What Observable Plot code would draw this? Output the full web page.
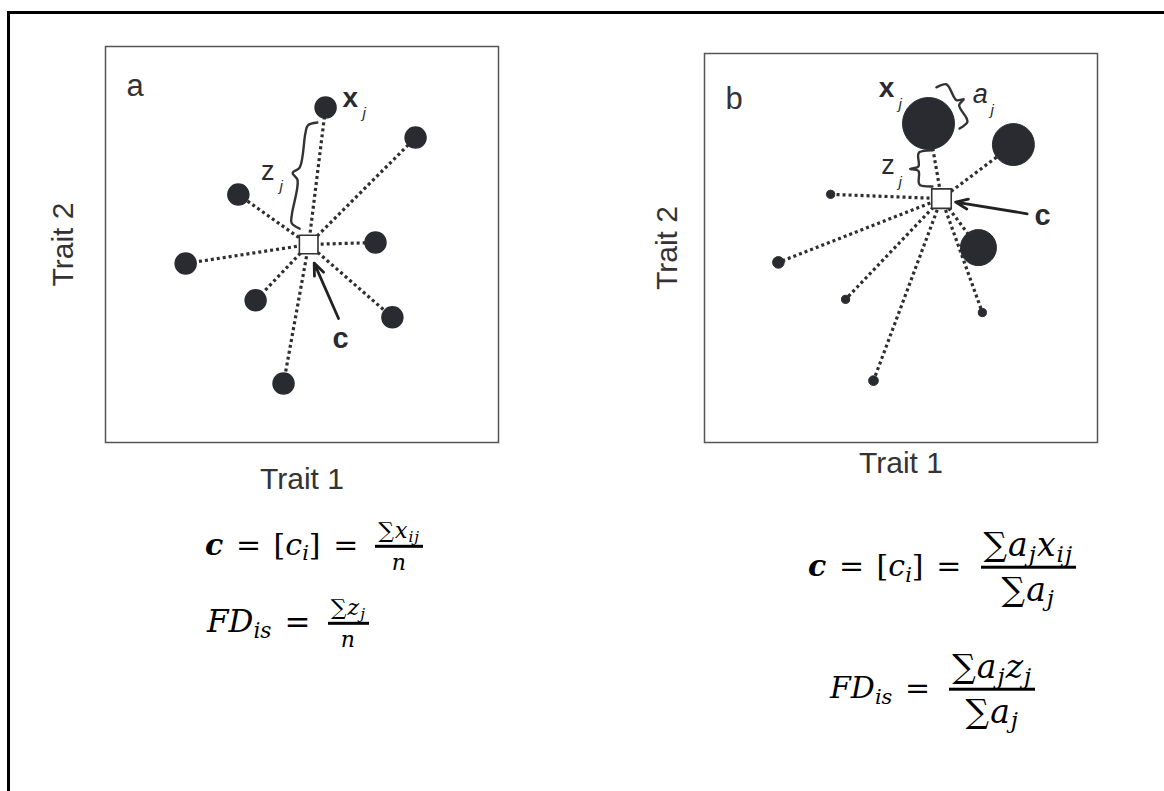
<!DOCTYPE html>
<html>
<head>
<meta charset="utf-8">
<script src="https://cdn.jsdelivr.net/npm/d3@7"></script>
<script src="https://cdn.jsdelivr.net/npm/@observablehq/plot@0.6"></script>
<style>
  html, body { margin: 0; padding: 0; background: #fff; }
  #root { position: relative; width: 1164px; height: 791px; overflow: hidden; background: #fff; }
  #outer { position: absolute; left: 7px; top: 11px; width: 1300px; height: 1000px; border: 3px solid #000; box-sizing: border-box; }
  .panel { position: absolute; top: 0; }
  .formula { position: absolute; display: block; transform: translateY(-50%);
             font-family: "DejaVu Serif", "Liberation Serif", serif; color: #000; white-space: nowrap; line-height: 1; }
  .formula i { font-style: italic; }
  .formula sub { font-size: 0.7em; position: relative; top: 0.25em; vertical-align: baseline; line-height: 0; }
  .frac { display: inline-flex; flex-direction: column; align-items: center; vertical-align: middle; margin-left: 0.2em; }
  .frac .num { border-bottom: 3px solid #000; padding: 0 3px 3px 3px; line-height: 1.05; }
  .frac .den { line-height: 1.15; padding-top: 2px; }
  .op { margin: 0 0.42em; }
</style>
</head>
<body>
<div id="root">
  <div id="outer"></div>
  <div id="panelA" class="panel" style="left:0px"></div>
  <div id="panelB" class="panel" style="left:600px"></div>

  <div class="formula" style="left:205px; top:547px; font-size:30px;">
    <b><i>c</i></b><span class="op">=</span>[<i>c</i><sub><i>i</i></sub>]<span class="op">=</span><span class="frac" style="font-size:22px; letter-spacing:1px;"><span class="num">∑<i>x</i><sub><i>ij</i></sub></span><span class="den"><i>n</i></span></span>
  </div>
  <div class="formula" style="left:207px; top:624px; font-size:31px;">
    <i>FD</i><sub><i>is</i></sub><span class="op">=</span><span class="frac" style="font-size:22px; letter-spacing:1px;"><span class="num">∑<i>z</i><sub><i>j</i></sub></span><span class="den"><i>n</i></span></span>
  </div>
  <div class="formula" style="left:808px; top:568px; font-size:30px;">
    <b><i>c</i></b><span class="op">=</span>[<i>c</i><sub><i>i</i></sub>]<span class="op">=</span><span class="frac" style="font-size:33px; letter-spacing:1px;"><span class="num">∑<i>a</i><sub><i>j</i></sub><i>x</i><sub><i>ij</i></sub></span><span class="den">∑<i>a</i><sub><i>j</i></sub></span></span>
  </div>
  <div class="formula" style="left:830px; top:690px; font-size:30px;">
    <i>FD</i><sub><i>is</i></sub><span class="op">=</span><span class="frac" style="font-size:33px; letter-spacing:1px;"><span class="num">∑<i>a</i><sub><i>j</i></sub><i>z</i><sub><i>j</i></sub></span><span class="den">∑<i>a</i><sub><i>j</i></sub></span></span>
  </div>
</div>
<script>
// ---------- Panel a: unweighted (trait space, 0–100) ----------
const traitA1 = [56.0, 78.9, 33.8, 68.7, 20.4, 38.2, 73.0, 45.3];
const traitA2 = [84.6, 77.0, 62.6, 50.5, 45.2, 35.9, 31.6, 14.9];
const centroidA = [51.7, 50.0];

// ---------- Panel b: abundance-weighted ----------
const traitB1 = [57.0, 78.6, 69.7, 32.1, 18.8, 35.9, 70.7, 43.0];
const traitB2 = [82.0, 76.6, 50.1, 63.8, 46.3, 36.8, 33.4, 15.9];
const abundanceB = [100, 65, 48, 2.5, 5, 2.5, 2.5, 3.5];
const centroidB = [60.3, 62.7];

// ---------- annotation anchors (trait space) ----------
const braceA_z = {from: [53.9, 80.8], to: [49.4, 54.0], depth: 4.1};
const braceB_z = {from: [57.8, 75.1], to: [58.0, 65.8], depth: 5.6};
const braceB_a = {from: [59.0, 91.3], to: [64.9, 80.7], depth: -4.6};
const arrowA = {from: [59.3, 31.3], to: [53.1, 45.3]};
const arrowB = {from: [82.1, 58.8], to: [63.9, 61.8]};
const labelsA = [
  {x: 62.3, y: 87.1, t: "x", size: 28, weight: "bold", style: "normal"},
  {x: 65.8, y: 83.2, t: "j", size: 15, weight: "normal", style: "italic"},
  {x: 41.3, y: 68.4, t: "z", size: 27, weight: "normal", style: "normal"},
  {x: 44.7, y: 64.8, t: "j", size: 15, weight: "normal", style: "italic"},
  {x: 59.8, y: 26.3, t: "c", size: 29, weight: "bold", style: "normal"}
];
const labelsB = [
  {x: 46.3, y: 91.0, t: "x", size: 28, weight: "bold", style: "normal"},
  {x: 49.8, y: 86.9, t: "j", size: 15, weight: "normal", style: "italic"},
  {x: 46.7, y: 71.2, t: "z", size: 27, weight: "normal", style: "normal"},
  {x: 49.8, y: 67.0, t: "j", size: 15, weight: "normal", style: "italic"},
  {x: 70.2, y: 89.4, t: "a", size: 27, weight: "normal", style: "italic"},
  {x: 73.2, y: 85.4, t: "j", size: 15, weight: "normal", style: "italic"},
  {x: 86.0, y: 58.4, t: "c", size: 29, weight: "bold", style: "normal"}
];

function bracePoints(b) {
  const [x1, y1] = b.from, [x2, y2] = b.to;
  const dx = x2 - x1, dy = y2 - y1, L = Math.hypot(dx, dy);
  const nx = dy / L, ny = -dx / L;
  const shape = [[0,0],[0.04,0.55],[0.12,0.62],[0.44,0.62],[0.5,1],[0.56,0.62],[0.88,0.62],[0.96,0.55],[1,0]];
  return shape.map(([u, v]) => ({x: x1 + dx * u + nx * v * b.depth, y: y1 + dy * u + ny * v * b.depth}));
}

const ink = "#2a2b30";
const font = "'Liberation Sans', Arial, Helvetica, sans-serif";

function textMarks(labels) {
  return labels.map(l => Plot.text([l], {x: "x", y: "y", text: "t", fontSize: l.size, fontWeight: l.weight,
    fontStyle: l.style, fill: ink, fontFamily: font}));
}

// Panel A
const ptsA = traitA1.map((x, i) => ({x, y: traitA2[i]}));
const plotA = Plot.plot({
  width: 560, height: 520,
  marginLeft: 105, marginTop: 46, marginRight: 62, marginBottom: 78,
  x: {domain: [0, 100], axis: null},
  y: {domain: [0, 100], axis: null},
  style: {fontFamily: font, background: "transparent"},
  marks: [
    Plot.frame({stroke: "#555", strokeWidth: 1.5}),
    Plot.link(ptsA, {x1: () => centroidA[0], y1: () => centroidA[1], x2: "x", y2: "y",
      stroke: "#2e2e2e", strokeWidth: 3.2, strokeDasharray: "3 3"}),
    Plot.dot(ptsA, {x: "x", y: "y", r: 10.5, fill: ink, stroke: ink}),
    Plot.line(bracePoints(braceA_z), {x: "x", y: "y", curve: "catmull-rom", stroke: "#333", strokeWidth: 2.4}),
    Plot.arrow([arrowA], {x1: d => d.from[0], y1: d => d.from[1], x2: d => d.to[0], y2: d => d.to[1],
      stroke: "#222", strokeWidth: 2.8, headAngle: 45, headLength: 7}),
    Plot.dot([centroidA], {x: d => d[0], y: d => d[1], symbol: "square", r: 10.5, fill: "#fff", stroke: "#333", strokeWidth: 1.6}),
    ...textMarks(labelsA),
    Plot.text(["a"], {frameAnchor: "top-left", dx: 21, dy: 27, fontSize: 31, fill: "#333", fontFamily: font}),
    Plot.text(["Trait 1"], {frameAnchor: "bottom", dy: 46, fontSize: 30, fill: "#333", fontFamily: font}),
    Plot.text(["Trait 2"], {frameAnchor: "left", textAnchor: "middle", dx: -42, rotate: -90, fontSize: 30, fill: "#333", fontFamily: font})
  ]
});
document.getElementById("panelA").appendChild(plotA);

// Panel B
const ptsB = traitB1.map((x, i) => ({x, y: traitB2[i], a: abundanceB[i]}));
const plotB = Plot.plot({
  width: 564, height: 520,
  marginLeft: 104, marginTop: 53, marginRight: 67, marginBottom: 78,
  x: {domain: [0, 100], axis: null},
  y: {domain: [0, 100], axis: null},
  r: {type: "sqrt", domain: [0, 100], range: [0, 26]},
  style: {fontFamily: font, background: "transparent"},
  marks: [
    Plot.frame({stroke: "#555", strokeWidth: 1.5}),
    Plot.link(ptsB, {x1: () => centroidB[0], y1: () => centroidB[1], x2: "x", y2: "y",
      stroke: "#2e2e2e", strokeWidth: 3.2, strokeDasharray: "3 3"}),
    Plot.dot(ptsB, {x: "x", y: "y", r: "a", fill: ink, stroke: ink, strokeWidth: 1}),
    Plot.line(bracePoints(braceB_z), {x: "x", y: "y", curve: "catmull-rom", stroke: "#333", strokeWidth: 2.4}),
    Plot.line(bracePoints(braceB_a), {x: "x", y: "y", curve: "catmull-rom", stroke: "#333", strokeWidth: 2.4}),
    Plot.arrow([arrowB], {x1: d => d.from[0], y1: d => d.from[1], x2: d => d.to[0], y2: d => d.to[1],
      stroke: "#222", strokeWidth: 2.8, headAngle: 45, headLength: 7}),
    Plot.dot([centroidB], {x: d => d[0], y: d => d[1], symbol: "square", r: 11, fill: "#fff", stroke: "#333", strokeWidth: 1.6}),
    ...textMarks(labelsB),
    Plot.text(["b"], {frameAnchor: "top-left", dx: 21, dy: 33, fontSize: 31, fill: "#333", fontFamily: font}),
    Plot.text(["Trait 1"], {frameAnchor: "bottom", dy: 30, fontSize: 30, fill: "#333", fontFamily: font}),
    Plot.text(["Trait 2"], {frameAnchor: "left", textAnchor: "middle", dx: -37, rotate: -90, fontSize: 30, fill: "#333", fontFamily: font})
  ]
});
document.getElementById("panelB").appendChild(plotB);
</script>
</body>
</html>
